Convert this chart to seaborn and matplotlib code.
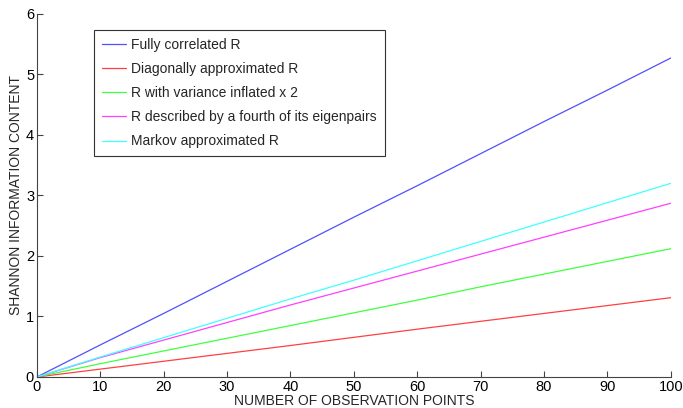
import numpy as np
import pandas as pd
import matplotlib
matplotlib.use("Agg")
import matplotlib.pyplot as plt
import seaborn as sns

x_points = [0, 10, 20, 30, 40, 50, 60, 70, 80, 90, 100]
fully_correlated = [0.0, 0.53, 1.05, 1.58, 2.11, 2.64, 3.16, 3.69, 4.22, 4.74, 5.27]
diagonal = [0.0, 0.13, 0.26, 0.39, 0.52, 0.655, 0.79, 0.92, 1.05, 1.18, 1.31]
variance_inflated = [0.0, 0.22, 0.43, 0.64, 0.85, 1.06, 1.27, 1.49, 1.70, 1.91, 2.12]
fourth_eigenpairs = [0.0, 0.32, 0.61, 0.90, 1.19, 1.47, 1.75, 2.03, 2.31, 2.59, 2.87]
markov = [0.0, 0.33, 0.65, 0.97, 1.29, 1.60, 1.92, 2.24, 2.56, 2.88, 3.20]

labels = ["Fully correlated R", "Diagonally approximated R", "R with variance inflated x 2",
          "R described by a fourth of its eigenpairs", "Markov approximated R"]
series = [fully_correlated, diagonal, variance_inflated, fourth_eigenpairs, markov]
colors = ["#5050ff", "#ff4040", "#40ff40", "#ff40ff", "#40ffff"]

df = pd.DataFrame({
    "x": np.tile(x_points, len(labels)),
    "y": np.concatenate(series),
    "series": np.repeat(labels, len(x_points)),
})

sns.set_style("white")
plt.rcParams["font.family"] = ["Liberation Sans", "DejaVu Sans"]

fig = plt.figure(figsize=(6.83, 4.08), dpi=100)
ax = fig.add_axes([0.054, 0.076, 0.928, 0.890])
sns.lineplot(data=df, x="x", y="y", hue="series", hue_order=labels,
             palette=dict(zip(labels, colors)), linewidth=0.9, ax=ax)

ax.set_xlim(0, 100)
ax.set_ylim(0, 6)
ax.set_xticks(range(0, 101, 10))
ax.set_yticks(range(0, 7))
ax.set_xlabel("NUMBER OF OBSERVATION POINTS", fontsize=10, labelpad=0)
ax.set_ylabel("SHANNON INFORMATION CONTENT", fontsize=10, labelpad=2)
ax.tick_params(axis="both", direction="in", length=4, width=0.8, colors="#444444",
               labelcolor="black", labelsize=10.5, pad=2, bottom=True, left=True)
for s in ["top", "right"]:
    ax.spines[s].set_visible(False)
for s in ["left", "bottom"]:
    ax.spines[s].set_color("#444444")
    ax.spines[s].set_linewidth(0.8)

leg = ax.legend(loc="upper left", bbox_to_anchor=(0.09, 0.955), borderaxespad=0,
                fontsize=10, frameon=True, fancybox=False, framealpha=1,
                edgecolor="#333333", handlelength=1.75, handletextpad=0.4,
                labelspacing=0.73, borderpad=0.55, title=None)
leg.get_frame().set_linewidth(0.8)

fig.savefig("out.png", dpi=100)
